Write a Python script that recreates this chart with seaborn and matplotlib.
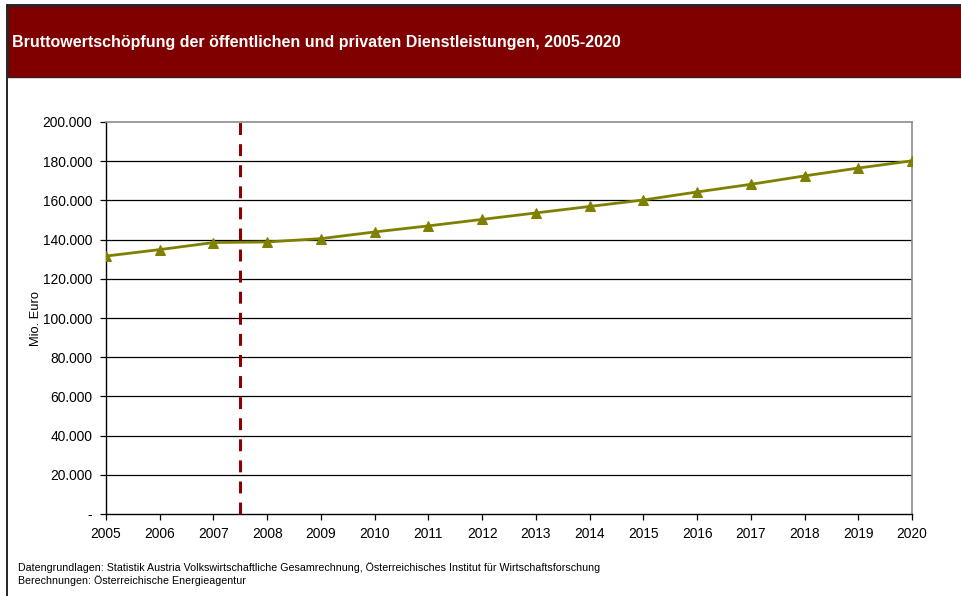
import matplotlib
matplotlib.use("Agg")
import matplotlib.pyplot as plt
from matplotlib.patches import Rectangle
import seaborn as sns
import pandas as pd

# Gross value added, public and private services (million EUR)
years = [2005, 2006, 2007, 2008, 2009, 2010, 2011, 2012, 2013, 2014,
         2015, 2016, 2017, 2018, 2019, 2020]
values = [131600, 134900, 138500, 138800, 140500, 143900, 147000, 150300,
          153600, 156900, 160200, 164300, 168200, 172500, 176500, 180200]
y_ticks = [0, 20000, 40000, 60000, 80000, 100000, 120000, 140000,
           160000, 180000, 200000]
y_tick_labels = ["-", "20.000", "40.000", "60.000", "80.000", "100.000",
                 "120.000", "140.000", "160.000", "180.000", "200.000"]
break_year = 2007.5

title = "Bruttowertschöpfung der öffentlichen und privaten Dienstleistungen, 2005-2020"
source_lines = [
    "Datengrundlagen: Statistik Austria Volkswirtschaftliche Gesamrechnung, "
    "Österreichisches Institut für Wirtschaftsforschung",
    "Berechnungen: Österreichische Energieagentur",
]

sns.set_theme(style="white")
plt.rcParams["font.family"] = ["Liberation Sans", "DejaVu Sans"]

df = pd.DataFrame({"Jahr": years, "Wert": values})

W, H = 962, 596
fig = plt.figure(figsize=(W / 100, H / 100), dpi=100)
fig.patch.set_facecolor("white")

def fx(px):
    return px / W

def fy(py):
    return 1 - py / H

# outer frame and title banner
fig.patches.append(Rectangle((fx(7.5), fy(700)), fx(1000), fy(5) - fy(700),
                             transform=fig.transFigure, facecolor="none",
                             edgecolor="black", linewidth=1.2, zorder=0))
fig.patches.append(Rectangle((fx(8), fy(77)), fx(1000), fy(6) - fy(77),
                             transform=fig.transFigure, facecolor="#800000",
                             edgecolor="#3a1a1a", linewidth=1.0, zorder=1))
fig.text(fx(12), fy(43), title, color="white", fontsize=11.5,
         fontweight="bold", va="center", ha="left")

ax = fig.add_axes([fx(106), fy(514), fx(912) - fx(106), fy(122) - fy(514)])
ax.set_facecolor("white")

for yv in y_ticks[1:-1]:
    ax.axhline(yv, color="black", linewidth=0.9, zorder=1)

sns.lineplot(data=df, x="Jahr", y="Wert", ax=ax, color="#808000",
             linewidth=2.0, marker="^", markersize=7,
             markeredgecolor="#808000", markerfacecolor="#808000", zorder=3)

ax.plot([break_year, break_year], [0, 203500], color="#8B0000",
        linewidth=2.2, linestyle=(0, (3.9, 3.0)), clip_on=False, zorder=4)

ax.set_xlim(years[0], years[-1])
ax.set_ylim(0, 200000)
ax.set_xticks(years)
ax.set_xticklabels([str(y) for y in years])
ax.set_yticks(y_ticks)
ax.set_yticklabels(y_tick_labels)
ax.tick_params(axis="both", direction="out", length=4, width=0.9,
               color="black", labelsize=9.9, labelcolor="black",
               bottom=True, left=True)
ax.tick_params(axis="x", pad=5)
ax.tick_params(axis="y", pad=6)
ax.set_xlabel("")
ax.set_ylabel("Mio. Euro", fontsize=9.3, color="black")
ax.yaxis.set_label_coords((42 - 106) / 806, 0.5)

for side in ("left", "bottom"):
    ax.spines[side].set_color("black")
    ax.spines[side].set_linewidth(1.0)
for side in ("top", "right"):
    ax.spines[side].set_color("#8c8c8c")
    ax.spines[side].set_linewidth(1.2)
    ax.spines[side].set_visible(True)

fig.text(fx(18), fy(568), source_lines[0], fontsize=7.7, color="black",
         va="center", ha="left")
fig.text(fx(18), fy(581), source_lines[1], fontsize=7.7, color="black",
         va="center", ha="left")

fig.savefig("out.png", dpi=100, facecolor="white")
